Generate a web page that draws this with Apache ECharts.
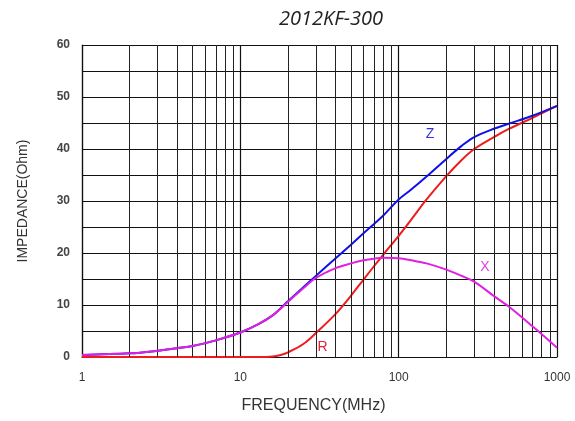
<!DOCTYPE html>
<html>
<head>
<meta charset="utf-8">
<script src="https://cdn.jsdelivr.net/npm/echarts@6/dist/echarts.min.js"></script>
<style>html,body{margin:0;padding:0;background:#fff}#c{width:575px;height:421px}</style>
</head>
<body>
<div id="c"></div>
<script>
var freq = [1, 2, 3, 4, 5, 7, 10, 13, 16, 18, 20, 25, 30, 40, 50, 60, 70, 80, 100, 120, 150, 200, 250, 300, 400, 500, 700, 1000];
var zValues = [0.4, 0.7, 1.2, 1.7, 2.1, 3.2, 4.7, 6.3, 8.0, 9.4, 10.7, 13.4, 15.6, 19.0, 21.6, 23.8, 25.6, 27.2, 30.3, 32.2, 34.7, 38.1, 40.6, 42.3, 43.9, 44.9, 46.4, 48.3];
var rValues = [0, 0, 0, 0, 0, 0, 0, 0, 0.1, 0.4, 0.9, 2.5, 4.6, 8.3, 11.8, 14.9, 17.5, 19.7, 23.3, 26.4, 30.3, 34.8, 37.9, 40.0, 42.3, 43.9, 46.0, 48.3];
var xValues = [0.4, 0.7, 1.2, 1.7, 2.1, 3.2, 4.7, 6.3, 8.0, 9.3, 10.6, 13.2, 15.2, 17.1, 18.0, 18.6, 18.9, 19.1, 19.0, 18.6, 18.0, 16.8, 15.6, 14.5, 11.7, 9.6, 5.9, 1.8];
var xTickLabels = ['1', '10', '100', '1000'];
var minorGridFreqs = [2,3,4,5,6,7,8,9,20,30,40,50,60,70,80,90,200,300,400,500,600,700,800,900];
var seriesLabels = [
  {name: 'Z', freq: 158, value: 42.8, color: '#3333dd'},
  {name: 'R', freq: 33, value: 1.9, color: '#e8203a'},
  {name: 'X', freq: 351, value: 17.2, color: '#e040e0'}
];

function pairs(vals){ return freq.map(function(f,i){ return [f, vals[i]]; }); }
function labelPoint(l){
  return {coord:[l.freq, l.value], symbol:'circle', symbolSize:1,
    itemStyle:{color:'rgba(0,0,0,0)'},
    label:{show:true, formatter:l.name, position:'inside', color:l.color, fontSize:14, fontFamily:'Liberation Sans, Arial'}};
}

var chart = echarts.init(document.getElementById('c'), null, {renderer:'canvas'});
chart.setOption({
  animation: false,
  backgroundColor: '#fff',
  title: {
    text: '2012KF-300', left: 326, top: 4, textAlign: 'center',
    textStyle: {fontFamily: 'Open Sans', fontStyle: 'italic', fontWeight: 'normal', fontSize: 20, color: '#222'}
  },
  grid: {left: 82, right: 18, top: 45, bottom: 64},
  xAxis: {
    type: 'log', logBase: 10, min: 1, max: 1000,
    name: 'FREQUENCY(MHz)', nameLocation: 'middle', nameGap: 41,
    nameTextStyle: {fontFamily: 'Liberation Sans, Arial', fontSize: 16, color: '#333', padding: [0, 12, 0, 0]},
    axisLine: {show: true, lineStyle: {color: '#111', width: 1.2}},
    axisTick: {show: false},
    axisLabel: {fontFamily: 'Liberation Sans, Arial', fontSize: 12, color: '#333', margin: 15,
      formatter: function(v){ var i = Math.round(Math.log10(v)); return xTickLabels[i] || ''; }},
    splitLine: {show: true, lineStyle: {color: '#111', width: 1.2}}
  },
  yAxis: {
    type: 'value', min: 0, max: 60, interval: 5,
    name: 'IMPEDANCE(Ohm)', nameLocation: 'middle', nameGap: 52, nameRotate: 90,
    nameTextStyle: {fontFamily: 'Liberation Sans, Arial', fontSize: 14, color: '#333'},
    axisLine: {show: true, lineStyle: {color: '#111', width: 1.2}},
    axisTick: {show: false},
    axisLabel: {fontFamily: 'Liberation Sans, Arial', fontSize: 12, fontWeight: 'bold', color: '#444', margin: 12,
      formatter: function(v){ return v % 10 === 0 ? String(v) : ''; }},
    splitLine: {show: true, lineStyle: {color: '#111', width: 1.2}}
  },
  series: [
    {
      type: 'line', name: 'grid', data: [], z: 1, silent: true,
      markLine: {
        silent: true, symbol: 'none', animation: false,
        label: {show: false},
        lineStyle: {color: '#222', width: 1, type: 'solid'},
        data: minorGridFreqs.map(function(f){ return {xAxis: f}; })
      }
    },
    {
      type: 'line', name: 'R', data: pairs(rValues), smooth: 0.35, showSymbol: false, z: 3,
      lineStyle: {color: '#ee1c1c', width: 2}, itemStyle: {color: '#ee1c1c'},
      markPoint: {data: [labelPoint(seriesLabels[1])]}
    },
    {
      type: 'line', name: 'Z', data: pairs(zValues), smooth: 0.35, showSymbol: false, z: 4,
      lineStyle: {color: '#1010ee', width: 2}, itemStyle: {color: '#1010ee'},
      markPoint: {data: [labelPoint(seriesLabels[0])]}
    },
    {
      type: 'line', name: 'X', data: pairs(xValues), smooth: 0.35, showSymbol: false, z: 5,
      lineStyle: {color: '#e020e0', width: 2}, itemStyle: {color: '#e020e0'},
      markPoint: {data: [labelPoint(seriesLabels[2])]}
    }
  ]
});
</script>
</body>
</html>
